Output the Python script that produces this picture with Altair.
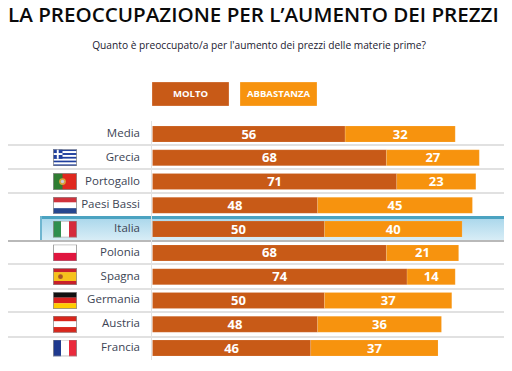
import base64
import altair as alt
import pandas as pd

TITLE = "LA PREOCCUPAZIONE PER L’AUMENTO DEI PREZZI"
SUBTITLE = "Quanto è preoccupato/a per l'aumento dei prezzi delle materie prime?"
countries = ["Media", "Grecia", "Portogallo", "Paesi Bassi", "Italia", "Polonia", "Spagna", "Germania", "Austria", "Francia"]
molto = [56, 68, 71, 48, 50, 68, 74, 50, 48, 46]
abbastanza = [32, 27, 23, 45, 40, 21, 14, 37, 36, 37]
series = ["MOLTO", "ABBASTANZA"]
series_colors = ["#c85a17", "#f7930e"]

WIDTH, HEIGHT = 496, 355
X0 = 144.5
PX_PER_UNIT = 3.44
Y_FIRST, Y_LAST = 126, 340
separators = [137, 161, 185, 256, 281, 304, 329]


def svg_uri(body):
    svg = ('<svg xmlns="http://www.w3.org/2000/svg" width="240" height="170" viewBox="0 0 240 170" '
           'preserveAspectRatio="none">' + body +
           '<rect x="4" y="4" width="232" height="162" fill="none" stroke="#8f8f8f" stroke-width="8"/></svg>')
    return "data:image/svg+xml;base64," + base64.b64encode(svg.encode()).decode()


def hstripes(*cols):
    h = 170 / len(cols)
    return "".join(f'<rect x="0" y="{i*h}" width="240" height="{h+1}" fill="{c}"/>' for i, c in enumerate(cols))


def vstripes(*cols):
    w = 240 / len(cols)
    return "".join(f'<rect x="{i*w}" y="0" width="{w+1}" height="170" fill="{c}"/>' for i, c in enumerate(cols))


greek = hstripes(*["#1f3f9e", "#ffffff"] * 4, "#1f3f9e") + (
    '<rect x="0" y="0" width="95" height="95" fill="#1f3f9e"/>'
    '<rect x="38" y="0" width="19" height="95" fill="#fff"/><rect x="0" y="38" width="95" height="19" fill="#fff"/>')
portugal = ('<rect width="240" height="170" fill="#e0281e"/><rect width="95" height="170" fill="#2f7d32"/>'
            '<circle cx="95" cy="85" r="34" fill="#d8a23a"/><circle cx="95" cy="85" r="17" fill="#c9c9d8"/>')
spain = hstripes("#c8202a", "#f6c21c", "#f6c21c", "#c8202a") + (
    '<rect y="42" width="240" height="86" fill="#f6c21c"/><circle cx="75" cy="85" r="24" fill="#a8552a"/>')
flags = {
    "Grecia": greek,
    "Portogallo": portugal,
    "Paesi Bassi": hstripes("#d0323c", "#ffffff", "#26478f"),
    "Italia": vstripes("#2f8f4e", "#ffffff", "#d52b3c"),
    "Polonia": hstripes("#ffffff", "#e0163f"),
    "Spagna": spain,
    "Germania": hstripes("#111111", "#d9201f", "#ffcc00"),
    "Austria": hstripes("#d9261c", "#ffffff", "#d9261c"),
    "Francia": vstripes("#1f3a8f", "#ffffff", "#ea2a3c"),
}

rows = []
for c, m, a in zip(countries, molto, abbastanza):
    rows.append({"paese": c, "serie": series[0], "val": m, "start": 0, "end": m, "mid": m / 2})
    rows.append({"paese": c, "serie": series[1], "val": a, "start": m, "end": m + a, "mid": m + a / 2})
df = pd.DataFrame(rows)

y_enc = alt.Y("paese:N", axis=None,
              scale=alt.Scale(type="point", domain=countries, range=[Y_FIRST, Y_LAST], padding=0))
x_scale = alt.Scale(domain=[0, 100], range=[X0, X0 + 100 * PX_PER_UNIT])
color_scale = alt.Scale(domain=series, range=series_colors)


def one(value):
    return alt.Chart(pd.DataFrame({"t": [value]}))


highlight = one("Italia").mark_rect(
    fill=alt.LinearGradient(gradient="linear", x1=0, x2=0, y1=0, y2=1,
                            stops=[alt.GradientStop(color="#a6d5ea", offset=0),
                                   alt.GradientStop(color="#d8edf6", offset=1)])
).encode(x=alt.value(32), x2=alt.value(WIDTH), y=alt.value(208), y2=alt.value(232))
highlight_top = one("t").mark_rect(color="#4ba3c1").encode(
    x=alt.value(32), x2=alt.value(WIDTH), y=alt.value(208), y2=alt.value(211))
highlight_left = one("l").mark_rect(color="#6fb6d0").encode(
    x=alt.value(32), x2=alt.value(34), y=alt.value(208), y2=alt.value(232))
highlight_bottom = one("b").mark_rect(color="#b9b9b9").encode(
    x=alt.value(0), x2=alt.value(WIDTH), y=alt.value(232), y2=alt.value(234))

seps = alt.Chart(pd.DataFrame({"py": separators})).mark_rule(color="#c4c4c4", strokeWidth=1.2).encode(
    y=alt.Y("py:Q", scale=None), x=alt.value(0), x2=alt.value(WIDTH))
vline = one("v").mark_rule(color="#e2e2e2", strokeWidth=1).encode(
    x=alt.value(143.5), y=alt.value(113), y2=alt.value(352))

bars = alt.Chart(df).mark_bar(size=16, stroke="#ffffff", strokeOpacity=0.25, strokeWidth=0.5).encode(
    x=alt.X("start:Q", scale=x_scale, axis=None),
    x2="end:Q",
    y=y_enc,
    color=alt.Color("serie:N", scale=color_scale, legend=None),
)
values = alt.Chart(df).mark_text(color="#ffffff", font="Open Sans", fontSize=13, fontWeight="bold", dy=0.5).encode(
    x=alt.X("mid:Q", scale=x_scale, axis=None),
    y=y_enc,
    text="val:Q",
)
labels = alt.Chart(pd.DataFrame({"paese": countries})).mark_text(
    align="right", color="#3c4454", font="Open Sans", fontSize=11.5, fontWeight=500
).encode(x=alt.value(132), y=y_enc, text="paese:N")

flag_df = pd.DataFrame({"paese": list(flags), "img": [svg_uri(b) for b in flags.values()]})
flag_marks = alt.Chart(flag_df).mark_image(width=24, height=17, aspect=False).encode(
    x=alt.value(57), y=y_enc, url="img:N")

title = one(TITLE).mark_text(font="Open Sans", fontSize=20.6, fontWeight=600, color="#0a0a0a", align="left").encode(
    x=alt.value(0), y=alt.value(8), text="t:N")
subtitle = one(SUBTITLE).mark_text(font="Open Sans", fontSize=10.2, fontWeight=500, color="#1a2030").encode(
    x=alt.value(251), y=alt.value(37.5), text="t:N")

legend_df = pd.DataFrame({"serie": series, "px": [144, 232], "px2": [221, 309], "mid": [182.5, 270.5]})
legend_boxes = alt.Chart(legend_df).mark_rect(stroke="#ffffff", strokeOpacity=0.25).encode(
    x=alt.X("px:Q", scale=None), x2="px2:Q",
    y=alt.value(74), y2=alt.value(98),
    color=alt.Color("serie:N", scale=color_scale, legend=None),
)
legend_text = alt.Chart(legend_df).mark_text(color="#ffffff", font="Open Sans", fontSize=9.5, fontWeight="bold").encode(
    x=alt.X("mid:Q", scale=None), y=alt.value(86), text="serie:N")

chart = alt.layer(
    highlight, highlight_top, highlight_left, highlight_bottom, seps, vline,
    bars, values, labels, flag_marks, title, subtitle, legend_boxes, legend_text,
).resolve_scale(x="independent").properties(
    width=WIDTH, height=HEIGHT, padding=0, autosize=alt.AutoSizeParams(type="none"),
    background="#ffffff",
).configure_view(stroke=None)

chart.save("out.html", embed_options={"renderer": "svg", "actions": False})
